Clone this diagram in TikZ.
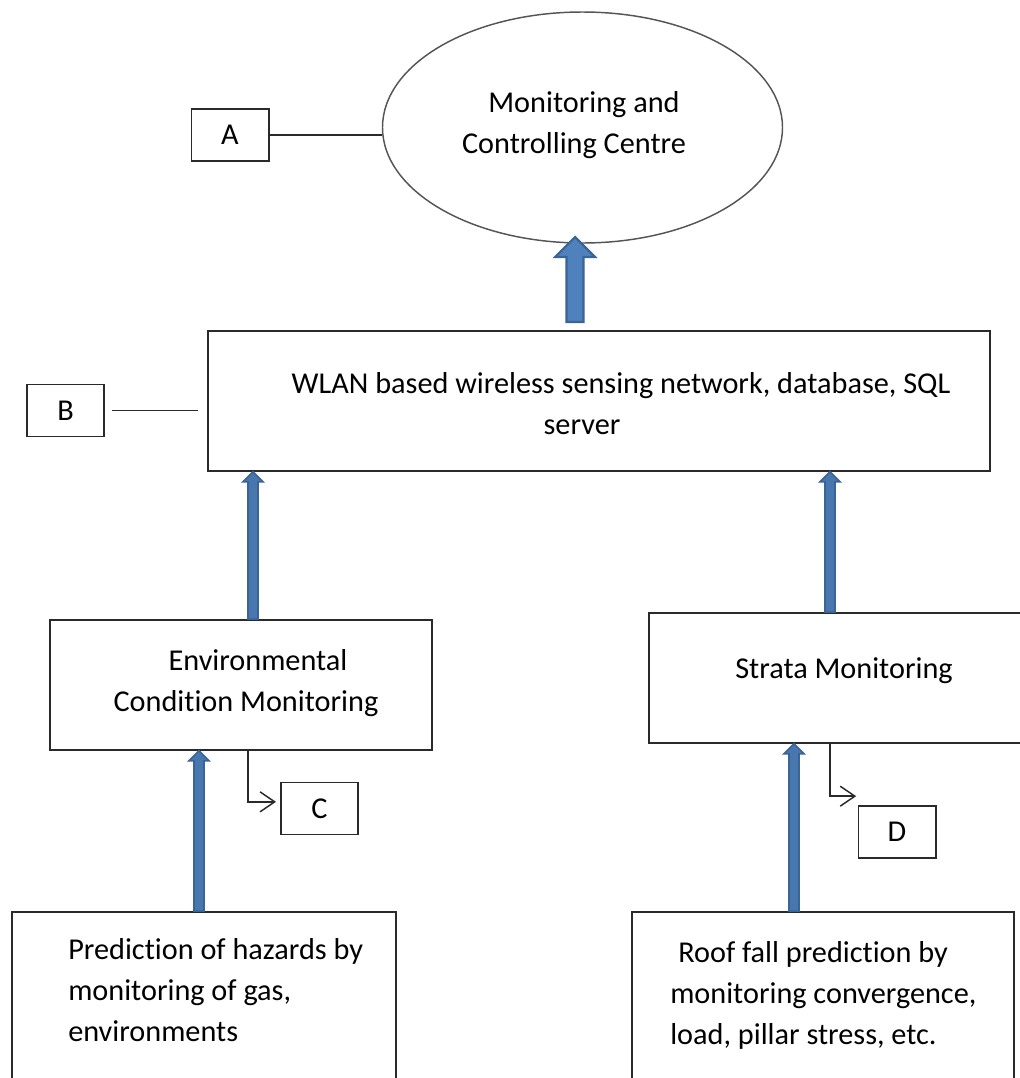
\documentclass[tikz,border=0pt]{standalone}
\usepackage{fontspec}
\setmainfont{Carlito}[RawFeature={-liga;-clig;-calt;-dlig}]
\usetikzlibrary{arrows.meta,shapes.geometric,calc}

\definecolor{arrowfill}{HTML}{4F81BD}
\definecolor{arrowedge}{HTML}{3A6494}
\definecolor{boxline}{HTML}{2A2A2A}

% upward block arrow: [style] tail, tip, half shaft, half head, head length
\newcommand\blockarrow[6][]{%
  \filldraw[blockarrow,#1] let \p1=(#2), \p2=(#3) in
    (\x1-#4,\y1) -- (\x1-#4,\y2-#6) -- (\x1-#5,\y2-#6) -- (\x1,\y2)
    -- (\x1+#5,\y2-#6) -- (\x1+#4,\y2-#6) -- (\x1+#4,\y1) -- cycle;}

\begin{document}
\begin{tikzpicture}[x=0.75pt,y=-0.75pt,
  every node/.style={font=\fontsize{22.7pt}{30.75pt}\selectfont, inner sep=0pt},
  box/.style={draw=boxline, line width=1.25pt, rectangle},
  letterbox/.style={box, minimum width=58pt, minimum height=39pt},
  link/.style={draw=boxline, line width=1.1pt},
  pointer/.style={link, -{Straight Barb[length=11pt,width=15pt,line width=1.1pt]}},
  blockarrow/.style={fill=arrowfill, draw=arrowedge, line width=1.2pt, line join=miter},
  thinarrow/.style={fill=arrowfill!65!arrowedge, draw=arrowedge},
]
\useasboundingbox (0,0) rectangle (1020,1078);
\clip (0,0) rectangle (1020,1078);

% main blocks
\node[ellipse, draw=boxline!80, line width=1.1pt, minimum width=300pt, minimum height=173.25pt] (centre) at (582.5,127.5) {};
\node[box, minimum width=586.5pt, minimum height=105pt] (wlan) at (599,401) {};
\node[box, minimum width=286.5pt, minimum height=97.5pt] (env) at (241,685) {};
\node[box, minimum width=285.75pt, minimum height=97.5pt] (strata) at (839.5,678) {};
\node[box, minimum width=288pt, minimum height=141pt] (hazard) at (204,1006) {};
\node[box, minimum width=286.5pt, minimum height=141pt] (roof) at (823,1006) {};

% texts
\node[align=center] (centretext) at (584,125) {Monitoring and\\\hspace*{-15pt}Controlling Centre};
\node[align=center] (wlantext) at (621,404) {WLAN based wireless sensing network, database, SQL\\\hspace*{-58.5pt}server};
\node[align=center] (envtext) at (258,683) {Environmental\\\hspace*{-18pt}Condition Monitoring};
\node (stratatext) at (844,671) {Strata Monitoring};
\node[align=left, anchor=west] (hazardtext) at (68,990) {Prediction of hazards by\\monitoring of gas,\\environments};
\node[align=left, anchor=west] (rooftext) at (670,995) {\hspace*{6pt}Roof fall prediction by\\monitoring convergence,\\load, pillar stress, etc.};

% letter tags
\node[letterbox] (tagA) at (230,135) {A};
\node[letterbox] (tagB) at (65.5,410.5) {B};
\node[letterbox] (tagC) at (319.5,808.5) {C};
\node[letterbox] (tagD) at (897,832) {D};

% tag leaders
\draw[link] (tagA.east) -- (tagA.east -| centre.west);
\draw[link, shorten <=5pt, shorten >=7pt] (tagB.east) -- (tagB.east -| wlan.west);
\coordinate (cdrop) at (248,0);
\coordinate (ddrop) at (830,0);
\draw[pointer, shorten >=3pt] (env.south -| cdrop) |- ([yshift=5pt]tagC.west);
\draw[pointer, shorten >=1pt] (strata.south -| ddrop) |- ([yshift=6.75pt]tagD.north west);

% data flow arrows
\coordinate (bigtail) at (575,322);
\coordinate (bigtip) at (575,237);
\blockarrow[line width=1.6pt]{bigtail}{bigtip}{6.4pt}{15pt}{15pt}

\coordinate (colL) at (253,0);
\coordinate (colR) at (830,0);
\coordinate (colLL) at (199,0);
\coordinate (colRR) at (794,0);
\blockarrow[thinarrow]{env.north -| colL}{wlan.south -| colL}{3.75pt}{7.5pt}{7.5pt}
\blockarrow[thinarrow]{strata.north -| colR}{wlan.south -| colR}{3.75pt}{7.5pt}{7.5pt}
\blockarrow[thinarrow]{hazard.north -| colLL}{env.south -| colLL}{3.75pt}{7.5pt}{7.5pt}
\blockarrow[thinarrow]{roof.north -| colRR}{strata.south -| colRR}{3.75pt}{7.5pt}{7.5pt}
\end{tikzpicture}
\end{document}
